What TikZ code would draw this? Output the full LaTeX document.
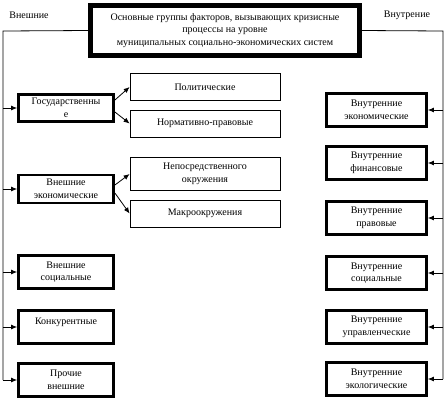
\documentclass[tikz,border=0pt]{standalone}
\usepackage{fontspec}
\setmainfont{Liberation Serif}
\usetikzlibrary{arrows.meta,calc}

\begin{document}
\begin{tikzpicture}[x=1pt,y=-1pt,
        every node/.style={font=\fontsize{10}{12.5}\selectfont},
        sidebox/.style={draw,line width=2.8pt,align=center,inner sep=1pt},
        leftbox/.style={sidebox,minimum width=95pt},
        rightbox/.style={sidebox,minimum width=100pt,minimum height=33pt},
        subbox/.style={draw,line width=0.8pt,minimum width=150pt,minimum height=27pt,align=center,inner sep=1pt},
        arr/.style={-{Latex[length=6pt,width=5pt]},line width=0.8pt}]
    \useasboundingbox (0,0) rectangle (446,400);

    % Title
    \node[draw,line width=5pt,minimum width=269pt,minimum height=50pt,align=center,inner sep=1pt] (main) at (225,30.5)
        {Основные группы факторов, вызывающих кризисные\\процессы на уровне\\муниципальных социально-экономических систем};
    \node (ext) at (29,15) {Внешние};
    \node (int) at (407,15) {Внутрение};

    % Left column
    \node[leftbox,minimum height=27pt] (gos) at (66,108) {Государственны\\е};
    \node[leftbox,minimum height=28pt] (econ) at (66,189) {Внешние\\экономические};
    \node[leftbox,minimum height=33pt] (soc) at (66,272) {Внешние\\социальные};
    \node[leftbox,minimum height=33pt] (konk) at (66,327) {Конкурентные\\~};
    \node[leftbox,minimum height=33pt] (proch) at (66,380) {Прочие\\внешние};

    % Middle column
    \node[subbox] (pol) at (205,87) {Политические};
    \node[subbox] (norm) at (205,123.5) {Нормативно-правовые};
    \node[subbox,minimum height=33pt] (nep) at (205,174) {Непосредственного\\окружения};
    \node[subbox] (macro) at (205,213.5) {Макроокружения};

    % Right column
    \node[rightbox] (iecon) at (376.5,110) {Внутренние\\экономические};
    \node[rightbox] (ifin) at (376.5,163) {Внутренние\\финансовые};
    \node[rightbox] (ipr) at (376.5,218) {Внутренние\\правовые};
    \node[rightbox] (isoc) at (376.5,273) {Внутренние\\социальные};
    \node[rightbox] (iupr) at (376.5,327) {Внутренние\\управленческие};
    \node[rightbox] (ieco) at (376.5,379) {Внутренние\\экологические};

    % Left trunk
    \coordinate (lt) at (3,31);
    \coordinate (lb) at (3,380);
    \draw[line width=0.8pt] (main.west) -- (lt) -- (lb);
    \draw[arr] (lt |- gos.west) -- (gos.west);
    \draw[arr] (lt |- econ.west) -- (econ.west);
    \draw[arr] (lt |- soc.west) -- (soc.west);
    \draw[arr] (lt |- konk.west) -- (konk.west);
    \draw[arr] (lt |- proch.west) -- (proch.west);

    % Right trunk
    \coordinate (rt) at (443,31);
    \coordinate (rb) at (443,379);
    \draw[line width=0.8pt] (main.east) -- (rt) -- (rb);
    \draw[arr] (rt |- iecon.east) -- (iecon.east);
    \draw[arr] (rt |- ifin.east) -- (ifin.east);
    \draw[arr] (rt |- ipr.east) -- (ipr.east);
    \draw[arr] (rt |- isoc.east) -- (isoc.east);
    \draw[arr] (rt |- iupr.east) -- (iupr.east);
    \draw[arr] (rt |- ieco.east) -- (ieco.east);

    % Sub-groups
    \draw[arr] ($(gos.east)+(0,-8)$) -- (pol.west);
    \draw[arr] ($(gos.east)+(0,4)$) -- (norm.west);
    \draw[arr] ($(econ.east)+(0,-4)$) -- (nep.west);
    \draw[arr] ($(econ.east)+(0,4)$) -- (macro.west);
\end{tikzpicture}
\end{document}
